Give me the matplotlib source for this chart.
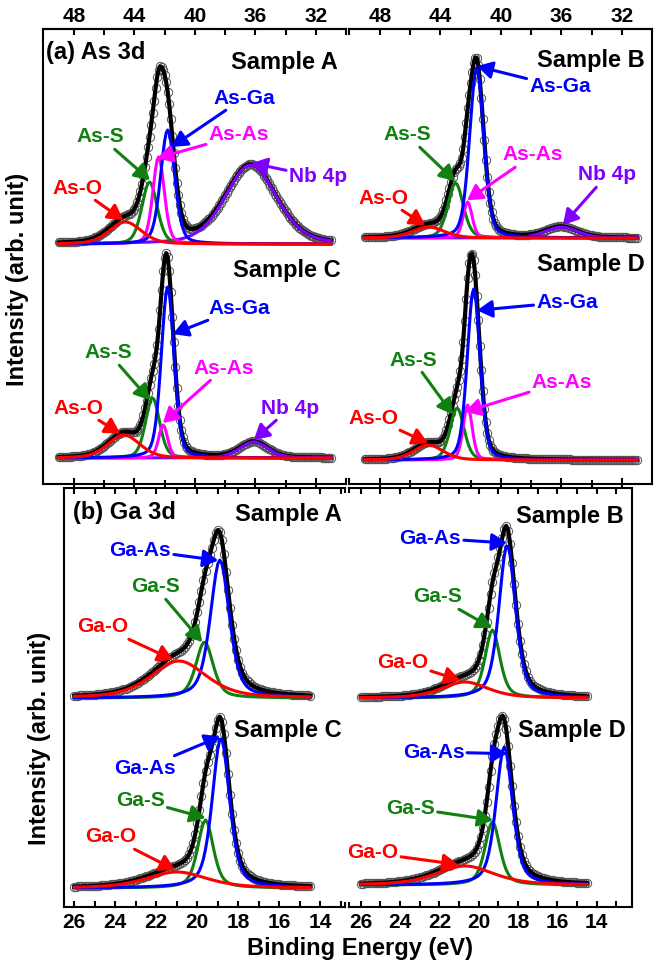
import numpy as np
import matplotlib
matplotlib.use("Agg")
import matplotlib.pyplot as plt
from matplotlib.ticker import MultipleLocator, FixedLocator

plt.rcParams['font.family'] = ['Liberation Sans', 'DejaVu Sans']
plt.rcParams['font.weight'] = 'bold'

samples = ["A", "B", "C", "D"]

# As 3d fit components (rows: samples A-D)
as_names = ["As-O", "As-S", "As-As", "As-Ga", "Nb 4p"]
as_colors = ["#ff0000", "#108010", "#ff00ff", "#0000ff", "#8000ff"]
as_center = np.array([[44.6, 43.0, 42.4, 41.8, 36.3],
                      [44.8, 43.0, 42.2, 41.6, 36.0],
                      [44.7, 42.8, 42.1, 41.8, 36.1],
                      [44.8, 42.9, 42.2, 41.8, 36.0]])
as_height = np.array([[22, 62, 87, 114, 79],
                      [11, 55, 36, 170, 11],
                      [23, 60, 33, 171, 16],
                      [15, 52, 55, 171, 0]])
as_fwhm = np.array([[2.5, 1.2, 0.9, 1.1, 4.0],
                    [2.5, 1.2, 0.7, 1.1, 2.5],
                    [2.5, 1.1, 0.7, 1.0, 2.2],
                    [2.3, 1.1, 0.7, 1.0, 2.2]])
# energy where each label arrow touches its curve
as_tip = np.array([[44.73, 42.97, 42.5, 41.53, 36.24],
                   [45.0, 43.03, 42.24, 41.58, 35.9],
                   [44.93, 42.97, 42.12, 41.46, 36.1],
                   [44.82, 43.17, 42.37, 41.58, np.nan]])

# Ga 3d fit components
ga_names = ["Ga-O", "Ga-S", "Ga-As"]
ga_colors = ["#ff0000", "#108010", "#0000ff"]
ga_center = np.array([[20.9, 19.65, 18.9],
                      [20.7, 19.3, 18.55],
                      [21.0, 19.6, 18.85],
                      [20.7, 19.3, 18.7]])
ga_height = np.array([[37, 56, 138],
                      [16, 68, 153],
                      [16, 68, 150],
                      [19, 63, 138]])
ga_fwhm = np.array([[3.2, 1.0, 1.1],
                    [2.8, 0.9, 1.0],
                    [3.5, 0.9, 1.0],
                    [3.5, 0.9, 1.0]])
ga_tip = np.array([[21.17, 19.76, 18.98],
                   [20.94, 19.32, 18.56],
                   [21.07, 19.6, 18.88],
                   [21.04, 19.27, 18.56]])

as_energy = np.arange(49.0, 30.95, -0.1)
ga_energy = np.arange(26.0, 14.45, -0.1)
as_ticks = [48, 44, 40, 36, 32]
ga_ticks = [26, 24, 22, 20, 18, 16, 14]

# layout: vertical stacking offsets and label positions
as_offset = [240, 246, 26, 24]
ga_offset = [209, 209, 19, 22]
as_text = [[(47.74, 296), (46.24, 347), (37.08, 349), (36.76, 386), (31.86, 307)],
           [(47.8, 286), (46.21, 349), (37.87, 329), (36.08, 397), (32.97, 309)],
           [(47.67, 76), (45.71, 131), (38.07, 116), (37.08, 176), (33.69, 76)],
           [(48.46, 66), (45.81, 124), (35.95, 102), (35.62, 182), None]]
ga_text = [[(24.63, 280), (22.05, 320), (22.78, 357)],
           [(23.87, 245), (22.1, 310), (22.46, 369)],
           [(24.24, 70), (22.78, 107), (22.54, 139)],
           [(25.39, 54), (23.47, 99), (22.3, 155)]]
as_sample_pos = [(30.55, 421), (30.45, 424), (30.35, 214), (30.45, 219)]
ga_sample_pos = [(12.95, 392), (12.6, 390), (12.95, 176), (12.5, 177)]


def pv(E, c, h, w, eta):
    x = (E - c) / (w / 2)
    return h * (eta / (1 + x ** 2) + (1 - eta) * np.exp(-np.log(2) * x ** 2))


def draw(ax, E, centers, heights, fwhms, eta, colors, names, tips, texts, offset):
    comps = [pv(E, c, h, w, eta) for c, h, w in zip(centers, heights, fwhms)]
    total = np.sum(comps, axis=0)
    ax.plot(E, total + offset, 'o', mfc='none', mec='#555555', ms=6, mew=0.7, zorder=1)
    ax.plot(E, total + offset, color='k', lw=3, zorder=2)
    for k in [4, 1, 2, 3, 0] if len(comps) == 5 else [1, 2, 0]:
        if heights[k] <= 0:
            continue
        ax.plot(E, comps[k] + offset, color=colors[k], lw=2.2, zorder=3)
    for k in range(len(comps)):
        if texts[k] is None:
            continue
        ty = pv(tips[k], centers[k], heights[k], fwhms[k], eta) + offset + 2
        ax.annotate(names[k], xy=(tips[k], ty), xytext=texts[k],
                    ha='center', va='center', color=colors[k], fontsize=15,
                    fontweight='bold', zorder=5,
                    arrowprops=dict(arrowstyle='-|>,head_length=0.7,head_width=0.4',
                                    color=colors[k], lw=2.2, mutation_scale=13,
                                    shrinkA=0, shrinkB=0))


fig = plt.figure(figsize=(6.6, 9.6), dpi=100)
W, H = 660.0, 960.0


def box(x0, y0, x1, y1):
    return [x0 / W, 1 - y1 / H, (x1 - x0) / W, (y1 - y0) / H]


ax_as = [fig.add_axes(box(43, 29, 346, 484)), fig.add_axes(box(349, 29, 652, 484))]
ax_ga = [fig.add_axes(box(64, 488, 345, 907)), fig.add_axes(box(349, 488, 632, 907))]

for col, ax in enumerate(ax_as):
    ax.set_xlim(50.05, 30.0)
    ax.set_ylim(0, 455)
for col, ax in enumerate(ax_ga):
    ax.set_xlim((26.5, 12.8) if col == 0 else (26.6, 12.2))
    ax.set_ylim(0, 419)

for i in range(4):
    col = i % 2
    draw(ax_as[col], as_energy, as_center[i], as_height[i], as_fwhm[i], 0.3,
         as_colors, as_names, as_tip[i], as_text[i], as_offset[i])
    ax_as[col].text(*as_sample_pos[i], "Sample " + samples[i], ha='right', va='center',
                    fontsize=17, fontweight='bold')
    draw(ax_ga[col], ga_energy, ga_center[i], ga_height[i], ga_fwhm[i], 0.5,
         ga_colors, ga_names, ga_tip[i], ga_text[i], ga_offset[i])
    ax_ga[col].text(*ga_sample_pos[i], "Sample " + samples[i], ha='right', va='center',
                    fontsize=17, fontweight='bold')

ax_as[0].text(49.83, 432, "(a) As 3d", ha='left', va='center', fontsize=17, fontweight='bold')
ax_ga[0].text(26.05, 394, "(b) Ga 3d", ha='left', va='center', fontsize=17, fontweight='bold')

for ax in ax_as + ax_ga:
    ax.set_yticks([])
    for s in ax.spines.values():
        s.set_linewidth(1.5)

for col, ax in enumerate(ax_as):
    ax.xaxis.set_major_locator(FixedLocator(as_ticks))
    ax.xaxis.set_minor_locator(FixedLocator([46, 42, 38, 34]))
    ax.tick_params(axis='x', which='both', direction='inout', top=False, bottom=True,
                   labelbottom=False, width=1.5)
    ax.tick_params(axis='x', which='major', length=8)
    ax.tick_params(axis='x', which='minor', length=6)
    sec = ax.secondary_xaxis('top')
    sec.xaxis.set_major_locator(FixedLocator(as_ticks))
    sec.xaxis.set_minor_locator(FixedLocator([46, 42, 38, 34]))
    sec.tick_params(axis='x', which='both', direction='in', width=1.5, length=4,
                    labelsize=15, pad=2)
    sec.spines['top'].set_linewidth(1.5)
    for lab in sec.get_xticklabels():
        lab.set_fontweight('bold')

for col, ax in enumerate(ax_ga):
    ax.xaxis.set_major_locator(FixedLocator(ga_ticks))
    ax.xaxis.set_minor_locator(MultipleLocator(1))
    ax.tick_params(axis='x', which='both', direction='in', top=True, bottom=True,
                   width=1.5, length=4, labelsize=15, pad=4)
    for lab in ax.get_xticklabels():
        lab.set_fontweight('bold')

# column joins: hide inner spines, keep small hooks at the break
for left, right in [(ax_as[0], ax_as[1]), (ax_ga[0], ax_ga[1])]:
    left.spines['right'].set_visible(False)
    right.spines['left'].set_visible(False)
    for ax, x in [(left, 1.0), (right, 0.0)]:
        for y0, y1 in [(1.0, 0.99), (0.0, 0.01)]:
            ax.plot([x, x], [y0, y1], transform=ax.transAxes, color='k', lw=1.5,
                    clip_on=False)

fig.text(18 / W, 1 - 279 / H, "Intensity (arb. unit)", rotation=90, ha='center',
         va='center', fontsize=17, fontweight='bold')
fig.text(40 / W, 1 - 738 / H, "Intensity (arb. unit)", rotation=90, ha='center',
         va='center', fontsize=17, fontweight='bold')
fig.text(360 / W, 1 - 948 / H, "Binding Energy (eV)", ha='center', va='center',
         fontsize=17, fontweight='bold')

fig.savefig("out.png", dpi=100)
